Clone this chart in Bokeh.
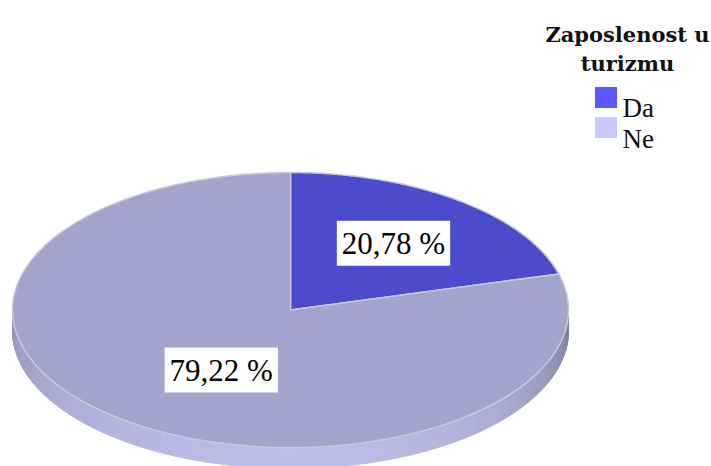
import numpy as np
from bokeh.plotting import figure
from bokeh.models import Range1d, Label
from bokeh.core.properties import value
from bokeh.embed import file_html
from bokeh.resources import INLINE

categories = ["Da", "Ne"]
percents = [20.78, 79.22]
labels = ["20,78 %", "79,22 %"]
top_colors = ["#4a4ccc", "#a3a3cc"]
legend_colors = ["#5a5aff", "#c8c8ff"]
legend_title = ["Zaposlenost u", "turizmu"]

W, H = 711, 466
p = figure(width=W, height=H, output_backend="svg", toolbar_location=None,
           x_range=Range1d(0, W), y_range=Range1d(H, 0),
           min_border=0, outline_line_color=None)
p.axis.visible = False
p.grid.visible = False
p.background_fill_color = "white"

cx, cy, rx, ry, depth = 290.0, 309.5, 278.0, 137.5, 21.0

def ex(t):
    return cx + rx * np.cos(np.radians(t))

def ey(t, d=0.0):
    return cy - ry * np.sin(np.radians(t)) + d

def mix(c1, c2, t):
    a = [int(c1[i:i + 2], 16) for i in (1, 3, 5)]
    b = [int(c2[i:i + 2], 16) for i in (1, 3, 5)]
    return "#%02x%02x%02x" % tuple(int(round(a[k] + (b[k] - a[k]) * t)) for k in range(3))

# slice angles (start at top, clockwise)
bounds = [90.0]
for v in percents:
    bounds.append(bounds[-1] - v / 100.0 * 360.0)

# side wall (front half), shaded in strips
xs, ys, cs = [], [], []
n = 90
for i in range(n):
    t0 = -180.0 + 180.0 * i / n
    t1 = -180.0 + 180.0 * (i + 1) / n
    tm = (t0 + t1) / 2
    k = 0
    for j in range(len(percents)):
        lo, hi = bounds[j + 1], bounds[j]
        for off in (0, -360, 360):
            if lo <= tm + off <= hi:
                k = j
    f = -np.sin(np.radians(tm))
    asym = 0.15 * np.cos(np.radians(tm))
    dark = mix(top_colors[k], "#000000", 0.12 + max(asym, 0))
    front = mix(top_colors[k], "#d0d0ff", 0.55)
    col = mix(dark, front, min(1.0, f ** 0.8))
    xs.append([ex(t0), ex(t1), ex(t1), ex(t0)])
    ys.append([ey(t0), ey(t1), ey(t1, depth), ey(t0, depth)])
    cs.append(col)
p.patches(xs, ys, fill_color=cs, line_color=cs, line_width=1)

# top face wedges
wx, wy = [], []
for j in range(len(percents)):
    ts = np.linspace(bounds[j], bounds[j + 1], 200)
    wx.append([cx] + list(ex(ts)))
    wy.append([cy] + list(ey(ts)))
p.patches(wx, wy, fill_color=top_colors, line_color="#c8c8d8", line_width=1.5)

# percentage labels
label_frac = [(0.61, 0.61), (0.41, 0.55)]
for j in range(len(percents)):
    tm = (bounds[j] + bounds[j + 1]) / 2
    fx, fy = label_frac[j]
    lx = cx + fx * rx * np.cos(np.radians(tm))
    ly = cy - fy * ry * np.sin(np.radians(tm))
    p.add_layout(Label(x=lx, y=ly, text=labels[j], text_font="Liberation Serif",
                       text_font_size="31px", text_color="black",
                       text_align="center", text_baseline="middle",
                       background_fill_color="white", padding=5))

# legend
p.text(x=[627, 627], y=[34, 63], text=legend_title, text_font=value("DejaVu Serif"),
       text_font_style="bold", text_font_size="21px", text_align="center",
       text_baseline="alphabetic", text_color="#111111")
p.rect(x=[605.5, 605.5], y=[97, 127], width=22, height=21, fill_color=legend_colors,
       line_color=None)
p.text(x=[622, 622], y=[107, 138], text=categories, text_font=value("Liberation Serif"),
       text_font_size="27px", text_align="left", text_baseline="alphabetic",
       text_color="#111111")

open("out.html", "w").write(file_html(p, INLINE))
